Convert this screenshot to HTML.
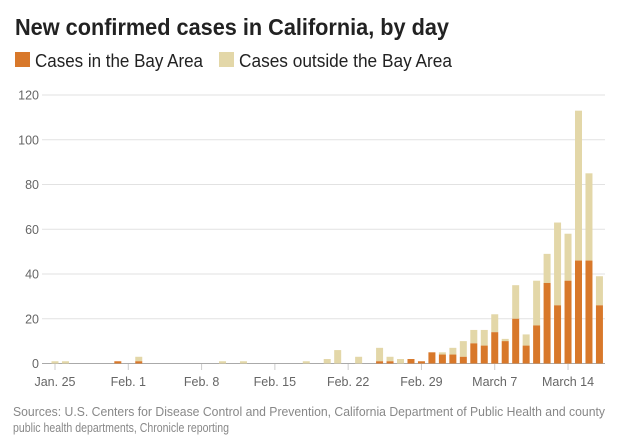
<!DOCTYPE html>
<html><head><meta charset="utf-8"><style>
html,body{margin:0;padding:0;background:#fff;width:631px;height:443px;overflow:hidden}
svg{display:block;font-family:"Liberation Sans",sans-serif}
</style></head><body>
<svg id="chart" width="631" height="443" viewBox="0 0 631 443">
<text x="15" y="35" font-size="23" font-weight="bold" fill="#222" textLength="434" lengthAdjust="spacingAndGlyphs">New confirmed cases in California, by day</text>
<g>
<rect x="15" y="52" width="15" height="15" fill="#d8782a"/>
<text x="35" y="67" font-size="18" fill="#222" textLength="168" lengthAdjust="spacingAndGlyphs">Cases in the Bay Area</text>
<rect x="219" y="52" width="15" height="15" fill="#e3d7a8"/>
<text x="239" y="67" font-size="18" fill="#222" textLength="213" lengthAdjust="spacingAndGlyphs">Cases outside the Bay Area</text>
</g>
<g id="grid"></g><g id="bars"></g><g id="xaxis"></g>
<text x="13" y="416" font-size="12.5" fill="#888" textLength="592" lengthAdjust="spacingAndGlyphs">Sources: U.S. Centers for Disease Control and Prevention, California Department of Public Health and county</text>
<text x="13" y="432" font-size="12.5" fill="#888" textLength="216" lengthAdjust="spacingAndGlyphs">public health departments, Chronicle reporting</text>
</svg>
<script>
// day index 0 = Jan. 25
const bayArea = [0,0,0,0,0,0,1,0,1,0,0,0,0,0,0,0,0,0,0,0,0,0,0,0,0,0,0,0,0,0,0,1,1,0,2,1,5,4,4,3,9,8,14,10,20,8,17,36,26,37,46,46,26];
const outside = [1,1,0,0,0,0,0,0,2,0,0,0,0,0,0,0,1,0,1,0,0,0,0,0,1,0,2,6,0,3,0,6,2,2,0,0,0,1,3,7,6,7,8,1,15,5,20,13,37,21,67,39,13];
const yTicks = [0,20,40,60,80,100,120];
const xTickLabels = ["Jan. 25","Feb. 1","Feb. 8","Feb. 15","Feb. 22","Feb. 29","March 7","March 14"];
const xTickDays = [0,7,14,21,28,35,42,49];

const NS="http://www.w3.org/2000/svg";
const y0=363.5, pxPer=(363.5-95)/120;
const yS=v=>y0-v*pxPer;
const xS=d=>55+d*10.47;
function mk(t,a,p){const e=document.createElementNS(NS,t);for(const k in a)e.setAttribute(k,a[k]);p.appendChild(e);return e;}
const grid=document.getElementById('grid'),bars=document.getElementById('bars'),xa=document.getElementById('xaxis');
yTicks.forEach(v=>{
  const l=mk('line',{x1:42,x2:605,y1:yS(v),y2:yS(v),stroke:v===0?'#aaa':'#e2e2e2','stroke-width':1},grid);
  
  
  const t=mk('text',{x:39,y:yS(v)+4.5,'text-anchor':'end','font-size':12.5,fill:'#666'},grid);
  
  
  t.textContent=v;
});
bayArea.forEach((b,i)=>{
  const o=outside[i],x=xS(i)-3.5;
  if(o>0){const r=mk('rect',{x:x,y:yS(b+o),width:7,height:o*pxPer,fill:'#e3d7a8'},bars);
    
    }
  if(b>0){const r=mk('rect',{x:x,y:yS(b),width:7,height:b*pxPer,fill:'#d8782a'},bars);
    
    }
});
xTickDays.forEach((d,i)=>{
  const l=mk('line',{x1:xS(d),x2:xS(d),y1:364,y2:370,stroke:'#ccc'},xa);
  
  
  const t=mk('text',{x:xS(d),y:386,'text-anchor':'middle','font-size':12.5,fill:'#666'},xa);
  
  
  t.textContent=xTickLabels[i];
});
</script>
</body></html>
